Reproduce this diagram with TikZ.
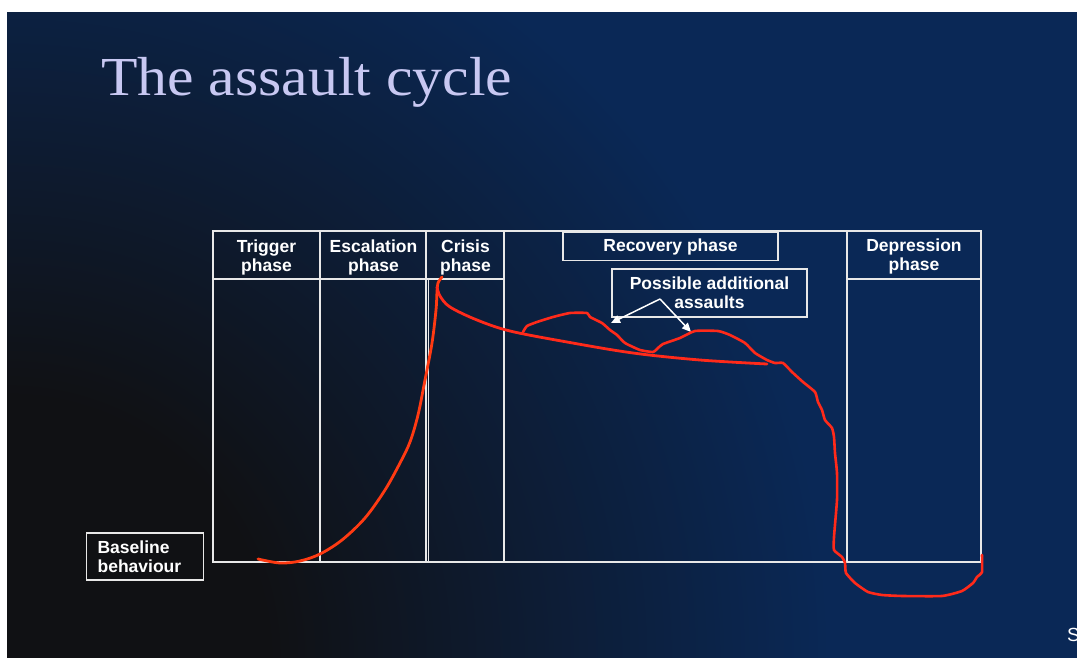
\documentclass[tikz,border=0pt]{standalone}
\usepackage{graphicx}
\usepackage{fontspec}
\setmainfont{Liberation Serif}
\newfontfamily\lab{Liberation Sans}
\usetikzlibrary{arrows.meta}
\definecolor{bgdark}{HTML}{101114}
\definecolor{bgnavy}{HTML}{0A2856}
\definecolor{titlecol}{HTML}{C8C8F2}
\definecolor{redline}{HTML}{FF2A1A}
\definecolor{orangered}{HTML}{FF3A12}
\definecolor{frame}{HTML}{E8E8E8}
\pgfdeclareradialshading{slidebg}{\pgfpointorigin}{color(0bp)=(bgdark); color(260bp)=(bgdark); color(820bp)=(bgnavy); color(1300bp)=(bgnavy)}
\begin{document}
\begin{tikzpicture}[x=1pt,y=-1pt,
  wl/.style={draw=frame, line width=1.4pt},
  hdr/.style={font=\lab\bfseries\fontsize{17.5}{19}\selectfont, text=white, align=center},
  red/.style={draw=redline, line width=2.8pt, line cap=round, line join=round},
  arr/.style={draw=white, line width=1.5pt, -{Triangle[length=9pt,width=8pt]}}]
\useasboundingbox (0,0) rectangle (1077,658);
\fill[white] (0,0) rectangle (1077,658);
\begin{scope}
  \clip (7,13) rectangle (1077,658);
  \fill[bgnavy] (7,13) rectangle (1077,658);
  \node[inner sep=0pt, outer sep=0pt] (bgshade) at (7,658) {\pgfuseshading{slidebg}};
\end{scope}
% title
\node[anchor=base west, inner sep=0pt, text=titlecol, font=\fontsize{55}{60}\selectfont] (title) at (101,96) {\scalebox{1.085}[1]{The assault cycle}};
% frame
\draw[wl] (213,231) rectangle (981,562);
\draw[wl] (213,279) -- (504,279);
\draw[wl] (847,279) -- (981,279);
\draw[wl] (320,231) -- (320,562);
\draw[wl] (425.8,231) -- (425.8,562);
\draw[wl] (428.2,279) -- (428.2,562);
\draw[wl] (504,231) -- (504,562);
\draw[wl] (847,231) -- (847,562);
% header labels
\node[hdr] (trig) at (266.5,257) {Trigger\\phase};
\node[hdr] (esc) at (373.5,257) {Escalation\\phase};
\node[hdr] (cris) at (465.5,257) {Crisis\\phase};
\node[hdr] (dep) at (914,256) {Depression\\phase};
\node[hdr, draw=frame, line width=1.2pt, minimum width=215pt, minimum height=28pt, inner sep=0pt] (rec) at (670.5,246.5) {Recovery phase};
\node[hdr, draw=frame, line width=1.2pt, minimum width=195pt, minimum height=48pt, inner sep=0pt] (poss) at (709.5,293) {Possible additional\\assaults};
\node[hdr, align=left, anchor=west, draw=frame, line width=1.2pt, minimum width=117pt, minimum height=47pt, inner sep=0pt, text width=105pt] (base) at (86,556.5) {\hspace*{5pt}Baseline\\\hspace*{5pt}behaviour};
% arrows
\coordinate (fork) at (660,299);
\coordinate (a1) at (611,323);
\coordinate (a2) at (691,332);
\draw[arr] (fork) -- (a1);
\draw[arr] (fork) -- (a2);
% red curves
\draw[red, draw=orangered] plot[smooth, tension=0.55] coordinates {(258,559) (280,563) (300,561) (320,554) (342,540) (365,518) (385,490) (400,463) (410,442) (418,415) (425,380) (432,343) (436,310) (437,292) (438,283) (442,277)};
\draw[red] plot[smooth, tension=0.55] coordinates {(437,287) (440,296) (450,307) (477,320) (510,331) (567,342) (633,353) (700,360) (767,364)};
\draw[red, line width=2.6pt] plot[smooth, tension=0.3] coordinates {(523,332) (527,326) (537,322) (553,317) (570,313) (587,313) (590,317) (602,323) (610,330) (617,335) (625,343) (640,350) (653,352) (658,348) (663,344) (680,338) (695,331) (718,331) (730,335) (745,343) (755,353) (767,360) (775,363) (783,363) (792,372) (803,382) (815,392) (818,402) (822,410) (825,420) (832,428) (834,437) (835,453) (837,473) (837,500) (834,537) (834,550) (842,557) (845,563) (846,573) (855,583) (868,592) (882,595) (903,596) (942,596) (962,591) (973,583) (977,577) (982,572) (982,555)};
% cut-off text at right edge
\node[anchor=base west, inner sep=0pt, text=white, font=\lab\fontsize{19}{22}\selectfont] (cut) at (1067,641) {S};
\end{tikzpicture}
\end{document}
